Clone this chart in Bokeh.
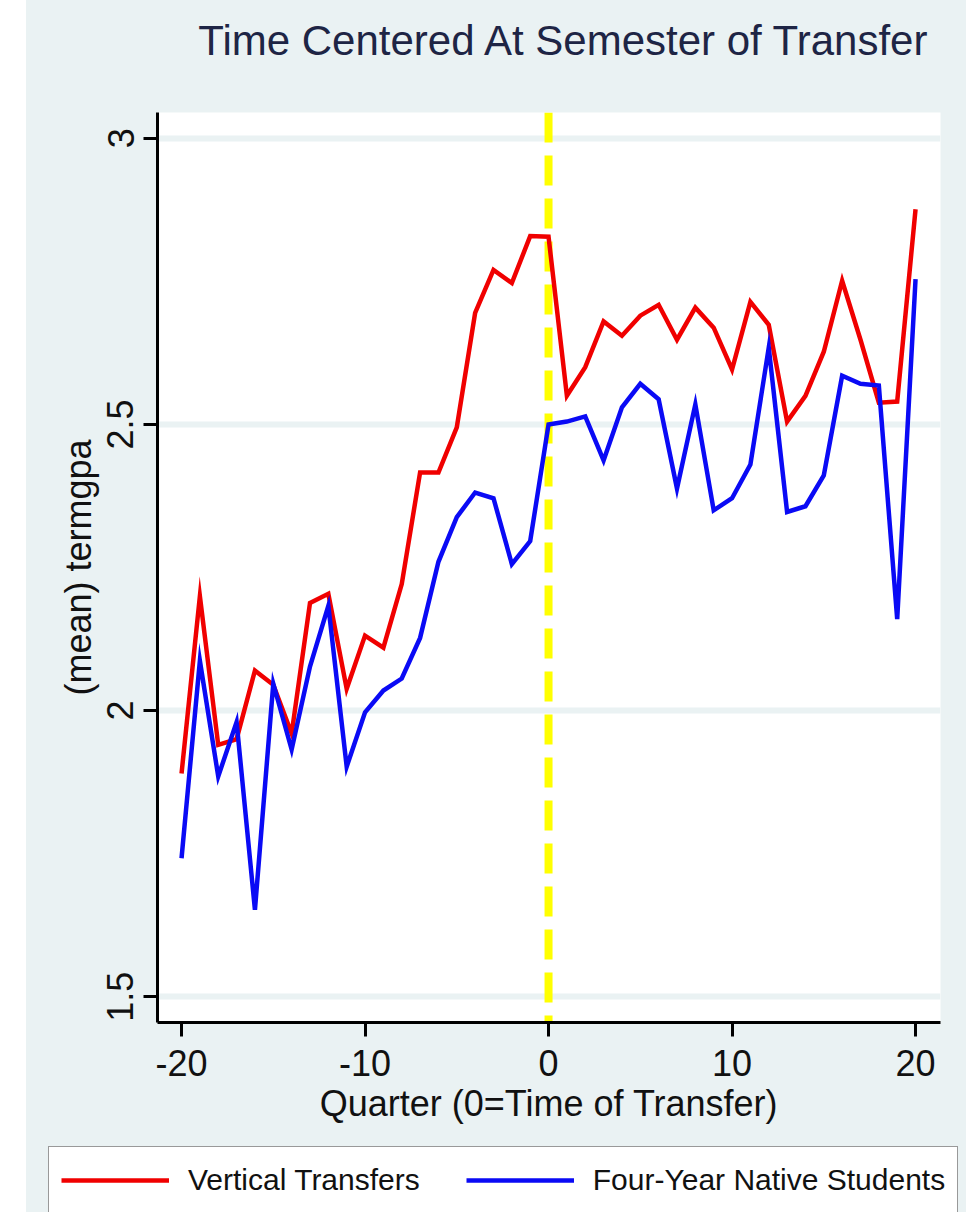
from bokeh.plotting import figure
from bokeh.models import (Range1d, FixedTicker, CustomJSTickFormatter, Span,
                          Legend, LegendItem, Spacer, Label)
from bokeh.layouts import row, column
from bokeh.embed import file_html
from bokeh.resources import INLINE

# ---------------- data ----------------
quarters = list(range(-20, 21))
vertical_transfers = [
    1.890, 2.200, 1.940, 1.950, 2.070, 2.045, 1.960, 2.188, 2.204, 2.038,
    2.131, 2.110, 2.221, 2.416, 2.416, 2.495, 2.695, 2.770, 2.747, 2.829,
    2.828,
    2.550, 2.600, 2.680, 2.655, 2.690, 2.709, 2.648, 2.704, 2.669, 2.596,
    2.714, 2.674, 2.505, 2.550, 2.627, 2.751, 2.648, 2.538, 2.540, 2.876,
]
native_students = [
    1.742, 2.087, 1.885, 1.980, 1.652, 2.047, 1.932, 2.077, 2.183, 1.902,
    1.997, 2.035, 2.056, 2.127, 2.260, 2.338, 2.381, 2.371, 2.256, 2.296,
    2.500,
    2.505, 2.514, 2.437, 2.530, 2.571, 2.544, 2.388, 2.535, 2.350, 2.371,
    2.430, 2.634, 2.347, 2.357, 2.411, 2.585, 2.571, 2.568, 2.160, 2.754,
]
series_names = ["Vertical Transfers", "Four-Year Native Students"]
series_colors = ["#F00000", "#0A0AF5"]
x_ticks = [-20, -10, 0, 10, 20]
y_ticks = [1.5, 2, 2.5, 3]
transfer_time = 0
title_text = "Time Centered At Semester of Transfer"

FONT = "Liberation Sans"
BG = "#EAF2F3"
TXT = "#111111"
W = 940

# ---------------- title strip ----------------
tf = figure(width=W, height=112, x_range=Range1d(0, 1), y_range=Range1d(0, 1),
            output_backend="svg", toolbar_location=None,
            x_axis_location=None, y_axis_location=None, min_border=0,
            background_fill_color=BG, border_fill_color=BG,
            outline_line_color=None)
tf.grid.visible = False
tf.frame_align = False
tf.add_layout(Label(x=904, y=72, x_units="screen", y_units="screen",
                    text=title_text, text_align="right",
                    text_baseline="alphabetic", text_font=FONT,
                    text_font_size="42px", text_color="#1E2545"))

# ---------------- main plot ----------------
p = figure(width=W, height=1028,
           x_range=Range1d(-21.31, 21.36), y_range=Range1d(1.455, 3.045),
           output_backend="svg", toolbar_location=None,
           min_border_left=131, min_border_right=26,
           min_border_top=0, min_border_bottom=118,
           background_fill_color="white", border_fill_color=BG,
           outline_line_color=None)
p.frame_align = False

# grid
p.xgrid.visible = False
p.ygrid.ticker = FixedTicker(ticks=y_ticks)
p.ygrid.grid_line_color = BG
p.ygrid.grid_line_width = 6

# axes
for ax in (p.xaxis[0], p.yaxis[0]):
    ax.axis_line_color = "black"
    ax.axis_line_width = 3
    ax.major_tick_line_color = "black"
    ax.major_tick_line_width = 3
    ax.major_tick_out = 14
    ax.major_tick_in = 0
    ax.minor_tick_out = 0
    ax.minor_tick_in = 0
    ax.major_label_text_font = FONT
    ax.major_label_text_font_size = "36px"
    ax.major_label_text_color = TXT
    ax.axis_label_text_font = FONT
    ax.axis_label_text_font_size = "36px"
    ax.axis_label_text_font_style = "normal"
    ax.axis_label_text_color = TXT
    ax.formatter = CustomJSTickFormatter(code="return String(tick);")

p.xaxis.ticker = FixedTicker(ticks=x_ticks)
p.xaxis.axis_label = "Quarter (0=Time of Transfer)"
p.xaxis.major_label_standoff = 13
p.xaxis.axis_label_standoff = 4

p.yaxis.ticker = FixedTicker(ticks=y_ticks)
p.yaxis.axis_label = "(mean) termgpa"
p.yaxis.major_label_orientation = "vertical"
p.yaxis.major_label_standoff = 10
p.yaxis.axis_label_standoff = 6

# vertical dashed line at time of transfer
vline = Span(location=transfer_time, dimension="height", line_color="#FFFF00",
             line_width=8, line_dash="30 13", level="underlay")
p.add_layout(vline)

p.line(quarters, vertical_transfers, line_color=series_colors[0],
       line_width=4.5, line_join="miter")
p.line(quarters, native_students, line_color=series_colors[1],
       line_width=4.5, line_join="miter")

# ---------------- legend strip ----------------
lg = figure(width=W, height=72, x_range=Range1d(0, 1), y_range=Range1d(0, 1),
            output_backend="svg", toolbar_location=None,
            x_axis_location=None, y_axis_location=None, min_border=0,
            background_fill_color=BG, border_fill_color=BG,
            outline_line_color=None)
lg.grid.visible = False
lg.frame_align = False
items = []
for name, col, vals in zip(series_names, series_colors,
                           [vertical_transfers, native_students]):
    # same series, drawn outside this strip's visible range: only the key shows
    rr = lg.line(quarters, vals, line_color=col, line_width=4.5)
    items.append(LegendItem(label=name, renderers=[rr]))

legend = Legend(items=items, orientation="horizontal", location=(22, -2),
                glyph_width=108, glyph_height=42, label_standoff=19,
                spacing=46, padding=12, margin=0,
                label_text_font=FONT, label_text_font_size="30px",
                label_text_color=TXT,
                border_line_color="#333333", border_line_width=1.5,
                background_fill_color="white", background_fill_alpha=1.0)
lg.add_layout(legend)

charts = column(tf, p, lg, spacing=0, styles={"background-color": BG})
layout = row(Spacer(width=26, height=1212), charts, spacing=0)
open("out.html", "w").write(file_html(layout, INLINE))
